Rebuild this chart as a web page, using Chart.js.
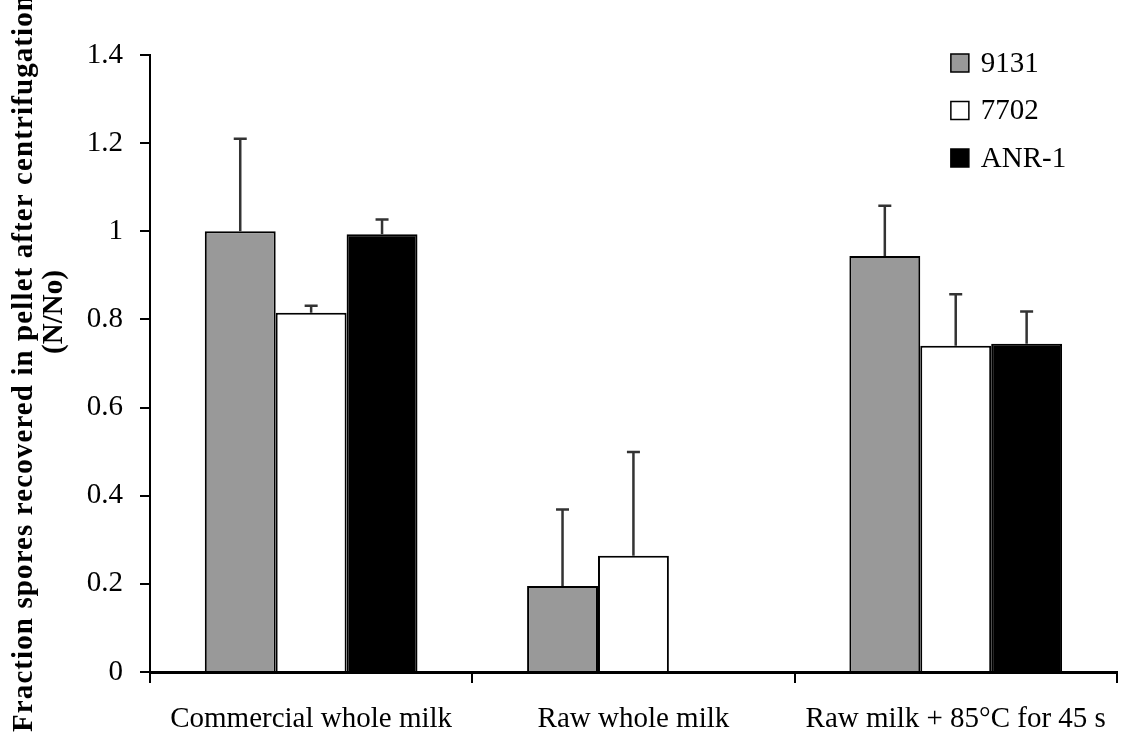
<!DOCTYPE html>
<html>
<head>
<meta charset="utf-8">
<script src="https://cdn.jsdelivr.net/npm/chart.js@4.4.0/dist/chart.umd.min.js"></script>
<style>
  html, body { margin: 0; padding: 0; background: #ffffff; }
  #wrap { width: 1126px; height: 740px; position: relative; }
</style>
</head>
<body>
<div id="wrap"><canvas id="c" width="1126" height="740"></canvas></div>
<script>
// ---- data ----
const categories = ["Commercial whole milk", "Raw whole milk", "Raw milk + 85\u00B0C for 45 s"];
const seriesNames = ["9131", "7702", "ANR-1"];
const values9131 = [1.0, 0.195, 0.944];
const values7702 = [0.815, 0.264, 0.74];
const valuesANR1 = [0.993, 0, 0.745];
const err9131 = [0.21, 0.174, 0.114];
const err7702 = [0.016, 0.235, 0.117];
const errANR1 = [0.034, 0, 0.073];
const yTickLabels = ["0", "0.2", "0.4", "0.6", "0.8", "1", "1.2", "1.4"];
const yTitleLines = ["Fraction spores recovered in pellet after centrifugation", "(N/No)"];

const FONT = "'Liberation Serif', 'Times New Roman', serif";

const errorBarPlugin = {
  id: 'errorBars',
  afterDatasetsDraw(chart) {
    const ctx = chart.ctx;
    const yScale = chart.scales.y;
    ctx.save();
    ctx.strokeStyle = '#333333';
    ctx.lineWidth = 2.5;
    chart.data.datasets.forEach((ds, i) => {
      const meta = chart.getDatasetMeta(i);
      meta.data.forEach((bar, j) => {
        const v = ds.data[j];
        const e = ds.errors[j];
        if (!e) return;
        const yBase = yScale.getPixelForValue(v);
        const yTop = yScale.getPixelForValue(v + e);
        ctx.beginPath();
        ctx.moveTo(bar.x, yBase);
        ctx.lineTo(bar.x, yTop);
        ctx.moveTo(bar.x - 6.5, yTop);
        ctx.lineTo(bar.x + 6.5, yTop);
        ctx.stroke();
      });
    });
    ctx.restore();
  }
};

const customLegendAndTitle = {
  id: 'customLegendAndTitle',
  afterDraw(chart) {
    const ctx = chart.ctx;
    const area = chart.chartArea;
    ctx.save();
    // legend
    const boxX = area.right - 166;
    let rowY = area.top + 8;
    chart.data.datasets.forEach((ds) => {
      ctx.fillStyle = ds.backgroundColor;
      ctx.fillRect(boxX, rowY - 9, 18, 18);
      ctx.strokeStyle = '#000';
      ctx.lineWidth = 1.5;
      ctx.strokeRect(boxX, rowY - 9, 18, 18);
      ctx.fillStyle = '#000';
      ctx.font = "29px " + FONT;
      ctx.textAlign = 'left';
      ctx.textBaseline = 'middle';
      ctx.fillText(ds.label, boxX + 30, rowY + 1);
      rowY += 47.5;
    });
    // y axis title
    ctx.font = "bold 29px " + FONT;
    ctx.fillStyle = '#000';
    ctx.textBaseline = 'alphabetic';
    ctx.save();
    ctx.letterSpacing = '1.1px';
    ctx.translate(32, 732);
    ctx.rotate(-Math.PI / 2);
    ctx.textAlign = 'left';
    ctx.fillText(yTitleLines[0], 0, 0);
    ctx.restore();
    ctx.save();
    ctx.translate(62, 312);
    ctx.rotate(-Math.PI / 2);
    ctx.textAlign = 'center';
    ctx.fillText(yTitleLines[1], 0, 0);
    ctx.restore();
    ctx.restore();
  }
};

const colors = ['#999999', '#ffffff', '#000000'];
const vals = [values9131, values7702, valuesANR1];
const errs = [err9131, err7702, errANR1];

new Chart(document.getElementById('c'), {
  type: 'bar',
  data: {
    labels: categories,
    datasets: seriesNames.map((name, i) => ({
      label: name,
      data: vals[i],
      errors: errs[i],
      backgroundColor: colors[i],
      borderColor: '#000000',
      borderWidth: 2,
      barPercentage: 1.0,
      categoryPercentage: 0.66
    }))
  },
  options: {
    responsive: false,
    animation: false,
    devicePixelRatio: 1,
    layout: { padding: { top: 55, right: 7, left: 0, bottom: 0 } },
    plugins: {
      legend: { display: false },
      tooltip: { enabled: false }
    },
    scales: {
      x: {
        afterFit(scale) { scale.height = 68; },
        grid: {
          display: true, drawOnChartArea: false, drawTicks: true,
          tickLength: 11, color: '#000', lineWidth: 2, offset: true
        },
        border: { display: true, color: '#000', width: 3 },
        ticks: {
          color: '#000', padding: 19, maxRotation: 0, autoSkip: false,
          font: { family: FONT, size: 29 }
        }
      },
      y: {
        min: 0, max: 1.4,
        afterFit(scale) { scale.width = 150; },
        grid: {
          display: true, drawOnChartArea: false, drawTicks: true,
          tickLength: 10, color: '#000', lineWidth: 2
        },
        border: { display: true, color: '#000', width: 2 },
        ticks: {
          stepSize: 0.2, color: '#000', padding: 17,
          font: { family: FONT, size: 29 },
          callback: (v, idx) => yTickLabels[idx]
        }
      }
    }
  },
  plugins: [errorBarPlugin, customLegendAndTitle]
});
</script>
</body>
</html>
